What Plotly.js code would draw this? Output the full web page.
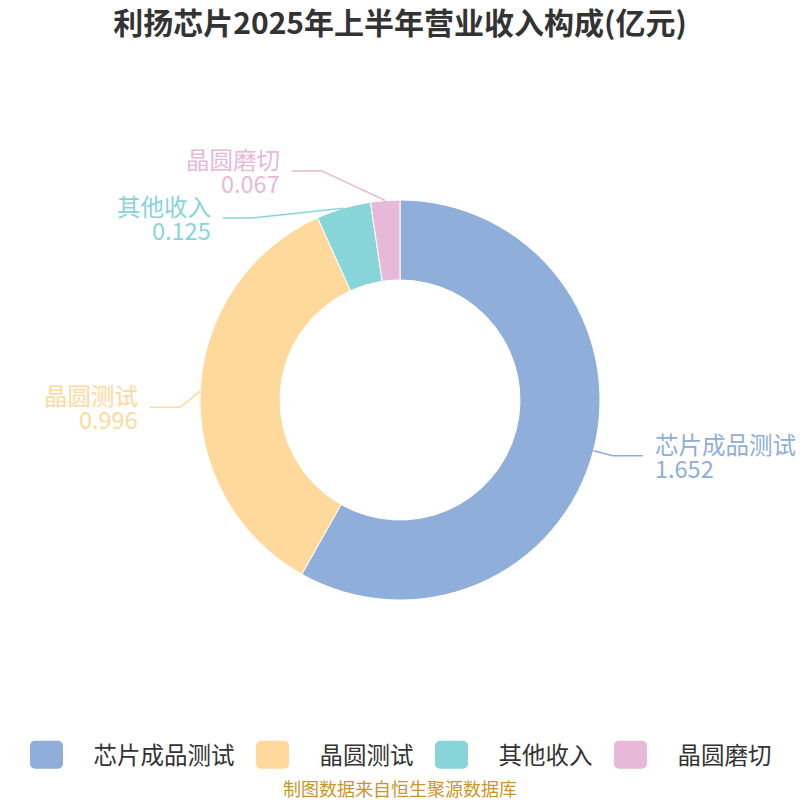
<!DOCTYPE html>
<html>
<head>
<meta charset="utf-8">
<script src="https://cdn.plot.ly/plotly-3.0.1.min.js"></script>
<style>
html,body{margin:0;padding:0;background:#fff;}
#chart{width:800px;height:800px;}
</style>
</head>
<body>
<div id="chart"></div>
<script>
// ---- data ----
const categories = ['芯片成品测试', '晶圆测试', '其他收入', '晶圆磨切'];
const values = [1.652, 0.996, 0.125, 0.067];
const colors = ['#8FAEDA', '#FFD99B', '#87D5D8', '#E7B8D8'];
const titleText = '利扬芯片2025年上半年营业收入构成(亿元)';
const sourceText = '制图数据来自恒生聚源数据库';

// ---- layout constants (pixels) ----
const W = 800, H = 800;
const cx = 400, cy = 400, R = 200;
const len1 = 20, len2 = 30, gap = 47, textPad = 10;
const labelNudge = [0, 17, 0, 0]; // extra vertical label offset per slice (label layout tweak)
const FONT = '"Noto Sans CJK SC", "Noto Sans", sans-serif';

const px = x => x / W;
const py = y => 1 - y / H;

// compute label positions from the data angles
const total = values.reduce((a, b) => a + b, 0);
let cum = 0;
const items = values.map((v, i) => {
  const th = 2 * Math.PI * (cum + v / 2) / total;
  cum += v;
  const s = Math.sin(th), c = Math.cos(th);
  return {
    i, dir: s >= 0 ? 1 : -1,
    ax: cx + R * s, ay: cy - R * c,
    ex: cx + (R + len1) * s, ey: cy - (R + len1) * c + labelNudge[i]
  };
});

[1, -1].forEach(dir => {
  const side = items.filter(it => it.dir === dir).sort((a, b) => a.ey - b.ey);
  let shifted = false;
  for (let k = 1; k < side.length; k++) {
    const d = gap - (side[k].ey - side[k - 1].ey);
    if (d > 0) {
      side[k - 1].ey -= d * 0.25;
      side[k].ey += d * 0.75;
      shifted = true;
    }
  }
  if (shifted) {
    const rB = Math.max(...side.map(it => Math.abs(it.ey - cy))) + 16;
    const rA = R + len1;
    side.forEach(it => {
      const dy = it.ey - cy;
      const dx = rA * Math.sqrt(Math.max(0, 1 - dy * dy / (rB * rB)));
      it.ex = cx + dir * dx;
    });
  }
});

const shapes = [];
const annotations = [];
items.forEach(it => {
  const endX = it.ex + it.dir * len2;
  shapes.push({
    type: 'path', xref: 'paper', yref: 'paper',
    path: `M${px(it.ax)},${py(it.ay)} L${px(it.ex)},${py(it.ey)} L${px(endX)},${py(it.ey)}`,
    line: {color: colors[it.i], width: 1.5}
  });
  const tx = endX + it.dir * textPad;
  const xa = it.dir > 0 ? 'left' : 'right';
  annotations.push({
    xref: 'paper', yref: 'paper', x: px(tx), y: py(it.ey - 12),
    xanchor: xa, yanchor: 'middle', showarrow: false,
    text: categories[it.i], font: {family: FONT, size: 23.5, color: colors[it.i]}
  });
  annotations.push({
    xref: 'paper', yref: 'paper', x: px(tx), y: py(it.ey + 12),
    xanchor: xa, yanchor: 'middle', showarrow: false,
    text: values[it.i].toFixed(3), font: {family: FONT, size: 23.5, color: colors[it.i]}
  });
});

annotations.push({
  xref: 'paper', yref: 'paper', x: 0.5, y: py(788),
  xanchor: 'center', yanchor: 'middle', showarrow: false,
  text: sourceText, font: {family: FONT, size: 18, color: '#C8962D'}
});

const trace = {
  type: 'pie',
  labels: categories,
  values: values,
  sort: false,
  direction: 'clockwise',
  rotation: 0,
  hole: 0.6,
  textinfo: 'none',
  hoverinfo: 'label+value',
  marker: {colors: colors, line: {color: '#ffffff', width: 1}},
  domain: {x: [px(cx - R), px(cx + R)], y: [py(cy + R), py(cy - R)]}
};

const layout = {
  width: W, height: H,
  margin: {l: 0, r: 0, t: 0, b: 0},
  paper_bgcolor: '#ffffff',
  title: {
    text: '<b>' + titleText + '</b>',
    x: 0.5, xanchor: 'center', y: 1 - 23 / H, yanchor: 'middle',
    font: {family: FONT, size: 30, color: '#333333'}
  },
  showlegend: true,
  legend: {
    orientation: 'h', x: px(395), xanchor: 'center', y: py(755), yanchor: 'middle',
    font: {family: FONT, size: 23.5, color: '#333333'},
    itemwidth: 70, traceorder: 'normal'
  },
  shapes: shapes,
  annotations: annotations
};

Plotly.newPlot('chart', [trace], layout, {displayModeBar: false, staticPlot: true}).then(gd => {
  // rounded swatch, shifted left inside the symbol slot
  const o = -7;
  const rr = `M${o-11.5},-14H${o+11.5}A5,5 0 0 1 ${o+16.5},-9V9A5,5 0 0 1 ${o+11.5},14H${o-11.5}A5,5 0 0 1 ${o-16.5},9V-9A5,5 0 0 1 ${o-11.5},-14Z`;
  gd.querySelectorAll('.legend .legendpoints path').forEach(p => {
    p.setAttribute('d', rr);
    p.style.strokeWidth = '0px';
  });
});
</script>
</body>
</html>
